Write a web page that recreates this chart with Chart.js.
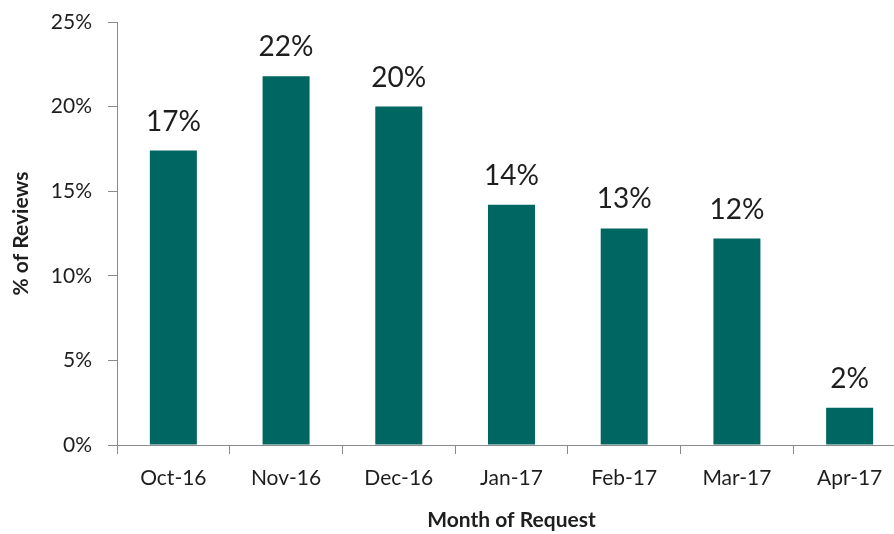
<!DOCTYPE html>
<html>
<head>
<meta charset="utf-8">
<script src="https://cdn.jsdelivr.net/npm/chart.js@4.4.1/dist/chart.umd.min.js"></script>
<style>
html,body{margin:0;padding:0;background:#fff;overflow:hidden;}
canvas{display:block;}
</style>
</head>
<body>
<canvas id="c" width="910" height="534"></canvas>
<script>
const categories = ["Oct-16","Nov-16","Dec-16","Jan-17","Feb-17","Mar-17","Apr-17"];
const reviewPct = [17.4, 21.8, 20.0, 14.2, 12.8, 12.2, 2.2];
const yTicks = [0, 5, 10, 15, 20, 25];

const FONT = "Lato, 'Open Sans', sans-serif";
const TEXT = "#1e1e1e";
const AXIS = "#8a8a8a";

const dataLabels = {
  id: 'dataLabels',
  afterDatasetsDraw(chart) {
    const ctx = chart.ctx;
    const meta = chart.getDatasetMeta(0);
    ctx.save();
    ctx.font = "28px " + FONT;
    ctx.fillStyle = TEXT;
    ctx.textAlign = 'center';
    ctx.textBaseline = 'alphabetic';
    meta.data.forEach((bar, i) => {
      ctx.fillText(Math.round(reviewPct[i]) + '%', bar.x, bar.y - 20);
    });
    ctx.restore();
  }
};

new Chart(document.getElementById('c'), {
  type: 'bar',
  data: {
    labels: categories,
    datasets: [{
      data: reviewPct,
      backgroundColor: '#006661',
      borderWidth: 0,
      categoryPercentage: 1,
      barPercentage: 0.417
    }]
  },
  options: {
    responsive: false,
    animation: false,
    devicePixelRatio: 1,
    layout: { padding: { top: 22, right: 4, bottom: 0, left: 0 } },
    plugins: { legend: { display: false }, tooltip: { enabled: false } },
    scales: {
      x: {
        offset: true,
        grid: { display: true, drawOnChartArea: false, drawTicks: true, tickLength: 9, color: AXIS, offset: true },
        border: { display: true, color: AXIS, width: 1 },
        ticks: { color: TEXT, font: { family: FONT, size: 21 }, padding: 12, maxRotation: 0 },
        title: { display: true, text: 'Month of Request', color: TEXT, font: { family: FONT, size: 21, weight: 'bold' }, padding: { top: 0, bottom: 1 } },
        afterFit(scale) { scale.height = 89; scale.paddingLeft = 0; scale.paddingRight = 0; }
      },
      y: {
        min: 0,
        max: 25,
        afterBuildTicks(scale) { scale.ticks = yTicks.map(v => ({ value: v })); },
        grid: { display: true, drawOnChartArea: false, drawTicks: true, tickLength: 9, color: AXIS },
        border: { display: true, color: AXIS, width: 1 },
        ticks: { color: TEXT, font: { family: FONT, size: 21 }, padding: 16, callback: v => v + '%' },
        title: { display: true, text: '% of Reviews', color: TEXT, font: { family: FONT, size: 21, weight: 'bold' }, padding: { top: 9, bottom: 0 } },
        afterFit(scale) { scale.width = 117; scale.paddingTop = 0; scale.paddingBottom = 0; }
      }
    }
  },
  plugins: [dataLabels]
});
</script>
</body>
</html>
